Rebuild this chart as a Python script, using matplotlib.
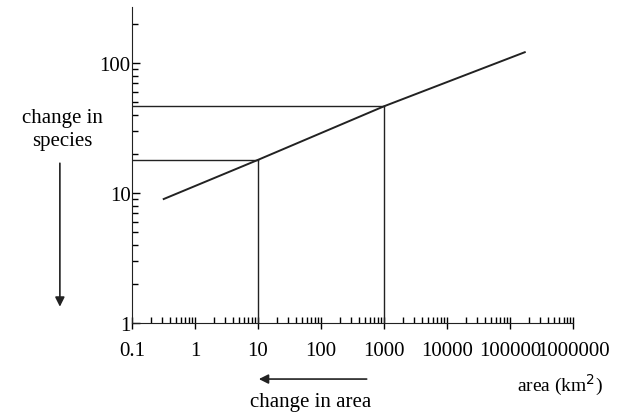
import numpy as np
import matplotlib
matplotlib.use("Agg")
import matplotlib.pyplot as plt
from matplotlib.ticker import LogLocator, NullFormatter

plt.rcParams['font.family'] = ['Liberation Serif', 'DejaVu Serif']

# species-area curve
area = [0.32, 10, 1000, 170000]
species = [9, 18, 46.5, 121]

# the two read-off points (area -> species)
ref_area = [10, 1000]
ref_species = [18, 46.5]

x_ticks = [0.1, 1, 10, 100, 1000, 10000, 100000, 1000000]
x_labels = ['0.1', '1', '10', '100', '1000', '10000', '100000', '1000000']
y_ticks = [1, 10, 100]
y_labels = ['1', '10', '100']

fig = plt.figure(figsize=(6.37, 4.14), dpi=100)
ax = fig.add_axes([0.207, 0.217, 0.693, 0.764])

ax.plot(area, species, color='#222222', lw=1.4)
for a, s in zip(ref_area, ref_species):
    ax.plot([0.1, a], [s, s], color='#222222', lw=1.0)
    ax.plot([a, a], [1, s], color='#222222', lw=1.0)

ax.set_xscale('log')
ax.set_yscale('log')
ax.set_xlim(0.1, 1000000)
ax.set_ylim(1, 270)

fs = 15
ax.set_xticks(x_ticks)
ax.set_xticklabels(x_labels, fontsize=fs)
ax.set_yticks(y_ticks)
ax.set_yticklabels(y_labels, fontsize=fs)
ax.xaxis.set_minor_locator(LogLocator(base=10, subs=np.arange(2, 10), numticks=20))
ax.yaxis.set_minor_locator(LogLocator(base=10, subs=np.arange(2, 10), numticks=20))
ax.xaxis.set_minor_formatter(NullFormatter())
ax.yaxis.set_minor_formatter(NullFormatter())
ax.tick_params(axis='x', which='major', direction='inout', length=9, width=1, pad=8)
ax.tick_params(axis='x', which='minor', direction='in', length=4, width=1)
ax.tick_params(axis='y', which='major', direction='in', length=6, width=1, pad=1)
ax.tick_params(axis='y', which='minor', direction='in', length=4, width=1)

for side in ['top', 'right']:
    ax.spines[side].set_visible(False)
for side in ['left', 'bottom']:
    ax.spines[side].set_color('#222222')

# annotations outside the axes
fig.text(0.098, 0.686, 'change in\nspecies', ha='center', va='center', fontsize=fs, linespacing=1.3)
fig.add_artist(matplotlib.patches.FancyArrowPatch((0.094, 0.61), (0.094, 0.25), transform=fig.transFigure,
                                                  arrowstyle='-|>', mutation_scale=14, lw=1.2, color='#222222'))
fig.add_artist(matplotlib.patches.FancyArrowPatch((0.58, 0.082), (0.402, 0.082), transform=fig.transFigure,
                                                  arrowstyle='-|>', mutation_scale=14, lw=1.2, color='#222222'))
fig.text(0.487, 0.028, 'change in area', ha='center', va='center', fontsize=fs)
fig.text(0.879, 0.07, 'area (km$^2$)', ha='center', va='center', fontsize=14)

fig.savefig('out.png', dpi=100)
